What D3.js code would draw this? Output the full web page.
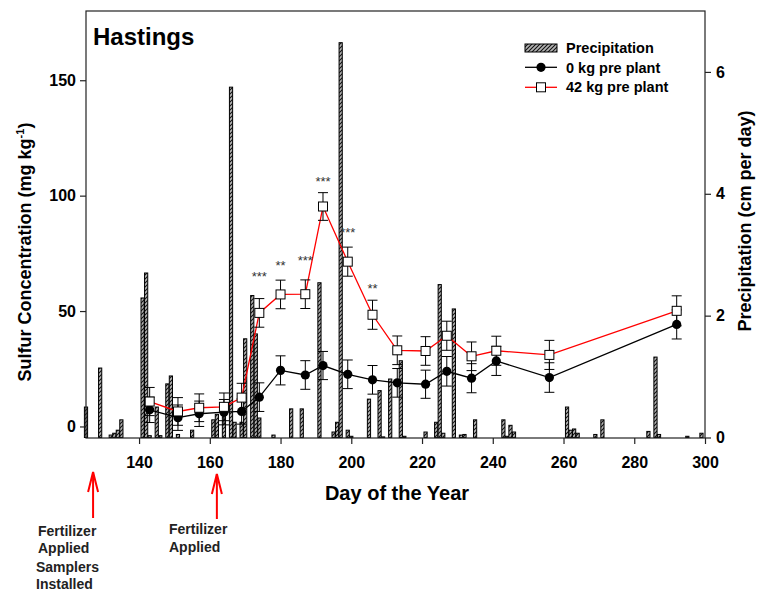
<!DOCTYPE html>
<html>
<head>
<meta charset="utf-8">
<script src="https://cdn.jsdelivr.net/npm/d3@7.9.0/dist/d3.min.js"></script>
<style>
  body { margin: 0; background: #fff; }
  svg { font-family: "Liberation Sans", Arial, sans-serif; }
  .tick-label { font-size: 16px; font-weight: bold; }
  .axis-title { font-size: 18px; font-weight: bold; }
  .legend-text { font-size: 14.5px; font-weight: bold; }
  .note { font-size: 14px; font-weight: bold; fill: #222; }
</style>
</head>
<body>
<svg id="chart" width="758" height="594"></svg>
<script>
// sampling days and sulfur concentration (mg/kg)
const sampleDays = [143, 151, 157, 164, 169, 174, 180, 187, 192, 199, 206, 213, 221, 227, 234, 241, 256, 292];
const sulfur0 = [7.2, 3.8, 5.5, 6.2, 6.5, 12.7, 24.3, 22.3, 26.4, 22.6, 20.2, 18.9, 18.3, 23.9, 20.9, 28.4, 21.2, 44.2];
const err0 = [5.5, 5.5, 5.5, 5.5, 5.5, 6.2, 6.3, 6.2, 6.1, 6.2, 6.2, 6.2, 6.1, 6.4, 6.3, 6.3, 6.4, 6.3];
const sulfur42 = [10.8, 6.5, 8.1, 8.5, 12.5, 49.2, 57.2, 57.3, 95.3, 71.4, 48.4, 33.0, 32.7, 39.3, 30.4, 32.8, 31.0, 50.1];
const err42 = [6.1, 6.0, 6.0, 6.0, 6.2, 6.2, 6.2, 6.2, 6.0, 6.3, 6.3, 6.2, 6.2, 6.3, 6.2, 6.3, 6.3, 6.5];

// daily precipitation (cm per day)
const rainDays = [125, 129, 132, 133, 134, 135, 141, 142, 143, 145, 146, 148, 149, 151, 155, 161, 162, 164, 166, 167,
  169, 170, 172, 173, 174, 178, 183, 186, 191, 195, 196, 197, 199, 200, 205, 208, 209, 211, 214, 215,
  221, 224, 225, 226, 229, 231, 232, 235, 243, 244, 245, 246, 261, 262, 263, 264, 269, 271, 284, 286,
  287, 295, 299];
const rainCm = [0.50, 1.14, 0.04, 0.07, 0.12, 0.29, 2.29, 2.70, 0.03, 0.50, 0.03, 0.88, 1.01, 0.05, 0.12, 0.29, 0.38, 0.43, 5.75, 0.25,
  0.25, 1.62, 2.33, 1.70, 0.32, 0.04, 0.47, 0.47, 2.54, 0.09, 0.25, 6.48, 0.12, 0.02, 0.63, 0.77, 0.01, 0.96, 1.26, 0.02,
  0.09, 0.25, 2.51, 0.07, 2.11, 0.04, 0.05, 0.29, 0.29, 0.02, 0.20, 0.09, 0.50, 0.12, 0.14, 0.07, 0.05, 0.29, 0.10, 1.32,
  0.05, 0.02, 0.07];

// significance marks
const starDays = [174, 180, 187, 192, 199, 206];
const starLabels = ['***', '**', '***', '***', '***', '**'];
const starLevels = [63, 68, 70, 104, 82, 58];

const xTicks = [140, 160, 180, 200, 220, 240, 260, 280, 300];
const leftTicks = [0, 50, 100, 150];
const rightTicks = [0, 2, 4, 6];
const arrowDays = [127, 162];

const svg = d3.select('#chart');
const pLeft = 86, pRight = 705, pTop = 11, pBottom = 438;

const x = d3.scaleLinear().domain([125, 300]).range([pLeft, pRight]);
const yS = d3.scaleLinear().domain([-5, 180]).range([pBottom, pTop]);
const yP = d3.scaleLinear().domain([0, 7.0]).range([437.5, pTop]);

// hatch pattern for the precipitation bars
const defs = svg.append('defs');
const pat = defs.append('pattern')
    .attr('id', 'hatch')
    .attr('patternUnits', 'userSpaceOnUse')
    .attr('width', 4).attr('height', 4);
pat.append('rect').attr('width', 4).attr('height', 4).attr('fill', '#b4b4b4');
pat.append('path')
    .attr('d', 'M-1,1 l2,-2 M0,4 l4,-4 M3,5 l2,-2')
    .attr('stroke', '#111').attr('stroke-width', 1.1);

const plot = svg.append('g');

// bars
const barW = 3.2;
plot.selectAll('rect.bar')
    .data(rainDays.map((d, i) => ({ day: d, cm: rainCm[i] })))
    .join('rect')
    .attr('class', 'bar')
    .attr('x', (d) => x(d.day) - barW / 2)
    .attr('y', (d) => yP(d.cm))
    .attr('width', barW)
    .attr('height', (d) => yP(0) - yP(d.cm))
    .attr('fill', 'url(#hatch)')
    .attr('stroke', '#000')
    .attr('stroke-width', 1);

function drawSeries(vals, errs, color) {
    const pts = sampleDays.map((d, i) => ({ day: d, v: vals[i], e: errs[i] }));
    plot.append('path')
        .datum(pts)
        .attr('fill', 'none')
        .attr('stroke', color)
        .attr('stroke-width', 1.3)
        .attr('d', d3.line().x((d) => x(d.day)).y((d) => yS(d.v)));
    const eb = plot.append('g').attr('stroke', '#000').attr('stroke-width', 1);
    pts.forEach((p) => {
        const cx = x(p.day);
        const y1 = yS(p.v + p.e), y2 = yS(p.v - p.e);
        eb.append('line').attr('x1', cx).attr('x2', cx).attr('y1', y1).attr('y2', y2);
        eb.append('line').attr('x1', cx - 5).attr('x2', cx + 5).attr('y1', y1).attr('y2', y1);
        eb.append('line').attr('x1', cx - 5).attr('x2', cx + 5).attr('y1', y2).attr('y2', y2);
    });
    return pts;
}

const pts0 = drawSeries(sulfur0, err0, '#000');
const pts42 = drawSeries(sulfur42, err42, '#ff0000');

plot.selectAll('circle.m0')
    .data(pts0)
    .join('circle')
    .attr('class', 'm0')
    .attr('cx', (d) => x(d.day))
    .attr('cy', (d) => yS(d.v))
    .attr('r', 4.6)
    .attr('fill', '#000');

plot.selectAll('rect.m42')
    .data(pts42)
    .join('rect')
    .attr('class', 'm42')
    .attr('x', (d) => x(d.day) - 4.5)
    .attr('y', (d) => yS(d.v) - 4.5)
    .attr('width', 9)
    .attr('height', 9)
    .attr('fill', '#fff')
    .attr('stroke', '#000')
    .attr('stroke-width', 1);

// stars
plot.selectAll('text.star')
    .data(starDays)
    .join('text')
    .attr('class', 'star')
    .attr('x', (d) => x(d))
    .attr('y', (d, i) => yS(starLevels[i]))
    .attr('text-anchor', 'middle')
    .attr('font-size', 13)
    .attr('fill', '#333')
    .text((d, i) => starLabels[i]);

// frame
svg.append('rect')
    .attr('x', pLeft).attr('y', pTop)
    .attr('width', pRight - pLeft).attr('height', pBottom - pTop)
    .attr('fill', 'none').attr('stroke', '#222').attr('stroke-width', 1.2);

// axes
const xAxis = svg.append('g').attr('transform', `translate(0,${pBottom})`)
    .call(d3.axisBottom(x).tickValues(xTicks).tickSize(6).tickFormat(d3.format('d')));
const yAxisL = svg.append('g').attr('transform', `translate(${pLeft},0)`)
    .call(d3.axisLeft(yS).tickValues(leftTicks).tickSize(6).tickFormat(d3.format('d')));
const yAxisR = svg.append('g').attr('transform', `translate(${pRight},0)`)
    .call(d3.axisRight(yP).tickValues(rightTicks).tickSize(6).tickFormat(d3.format('d')));

[xAxis, yAxisL, yAxisR].forEach((a) => {
    a.select('.domain').remove();
    a.selectAll('.tick line').attr('stroke', '#222').attr('stroke-width', 1.2);
    a.selectAll('.tick text').attr('class', 'tick-label').attr('fill', '#000');
});
xAxis.selectAll('.tick text').attr('dy', null).attr('y', 30);
yAxisL.selectAll('.tick text').attr('x', -10);
yAxisR.selectAll('.tick text').attr('x', 11);

// titles
svg.append('text')
    .attr('x', 93).attr('y', 45)
    .attr('font-size', 24).attr('font-weight', 'bold')
    .text('Hastings');

svg.append('text')
    .attr('class', 'axis-title')
    .attr('x', 397).attr('y', 500)
    .attr('font-size', 20)
    .style('font-size', '20px')
    .attr('text-anchor', 'middle')
    .text('Day of the Year');

const ylab = svg.append('text')
    .attr('class', 'axis-title')
    .attr('transform', 'translate(31,252) rotate(-90)')
    .attr('text-anchor', 'middle');
ylab.append('tspan').text('Sulfur Concentration (mg kg');
ylab.append('tspan').attr('font-size', 11).attr('dy', -7).text('-1');
ylab.append('tspan').attr('dy', 7).text(')');

svg.append('text')
    .attr('class', 'axis-title')
    .attr('transform', 'translate(751,221) rotate(-90)')
    .attr('text-anchor', 'middle')
    .text('Precipitation (cm per day)');

// legend
const lg = svg.append('g');
lg.append('rect')
    .attr('x', 525).attr('y', 44).attr('width', 32).attr('height', 8)
    .attr('fill', 'url(#hatch)').attr('stroke', '#000').attr('stroke-width', 1);
lg.append('line').attr('x1', 525).attr('x2', 557).attr('y1', 67.3).attr('y2', 67.3)
    .attr('stroke', '#000').attr('stroke-width', 1.3);
lg.append('circle').attr('cx', 541).attr('cy', 67.3).attr('r', 4.6).attr('fill', '#000');
lg.append('line').attr('x1', 525).attr('x2', 557).attr('y1', 87.3).attr('y2', 87.3)
    .attr('stroke', '#ff0000').attr('stroke-width', 1.3);
lg.append('rect').attr('x', 536.5).attr('y', 82.8).attr('width', 9).attr('height', 9)
    .attr('fill', '#fff').attr('stroke', '#000');
[['Precipitation', 53.3], ['0 kg pre plant', 72.7], ['42 kg pre plant', 92.3]].forEach(([t, yy]) => {
    lg.append('text').attr('class', 'legend-text').attr('x', 566).attr('y', yy).text(t);
});

// fertilizer arrows
const arrows = svg.append('g').attr('stroke', '#ff0000').attr('stroke-width', 2).attr('fill', 'none');
arrowDays.forEach((d, i) => {
    const ax = x(d);
    const tip = i === 0 ? 472 : 474;
    const base = i === 0 ? 518 : 519;
    arrows.append('line').attr('x1', ax).attr('x2', ax).attr('y1', base).attr('y2', tip);
    arrows.append('path').attr('d', `M${ax - 5},${tip + 20} L${ax},${tip} L${ax + 5},${tip + 20}`);
});

const notes = [
    ['Fertilizer', 38, 536], ['Applied', 38, 553], ['Samplers', 36, 572], ['Installed', 36, 589],
    ['Fertilizer', 169, 534], ['Applied', 169, 551.5]
];
notes.forEach(([t, nx, ny]) => {
    svg.append('text').attr('class', 'note').attr('x', nx).attr('y', ny).text(t);
});
</script>
</body>
</html>
